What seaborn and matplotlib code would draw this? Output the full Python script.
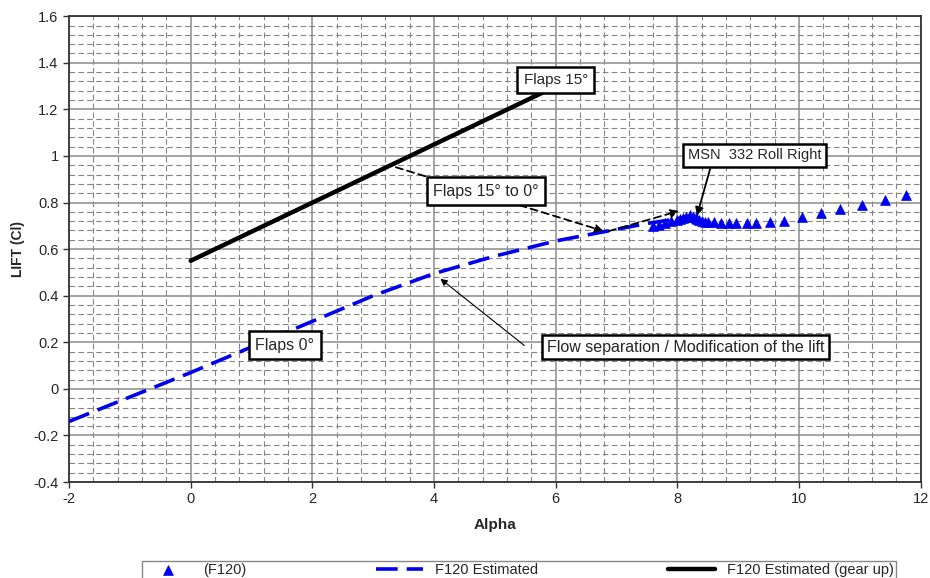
import numpy as np
import pandas as pd
import matplotlib
matplotlib.use("Agg")
import matplotlib.pyplot as plt
from matplotlib.ticker import MultipleLocator, FuncFormatter
import seaborn as sns

# --- データ ---
# F120 Estimated (gear up): フラップ15°
alpha_gear_up = [0.0, 5.85]
cl_gear_up = [0.55, 1.28]

# F120 Estimated: フラップ0°
alpha_est = [-2, -1, 0, 1, 2, 3, 4, 5, 6, 7, 7.5, 8, 8.3]
cl_est = [-0.14, -0.035, 0.07, 0.18, 0.29, 0.40, 0.495, 0.57, 0.635, 0.685, 0.71, 0.73, 0.745]

# (F120) 飛行データ
alpha_f120 = [7.6, 7.7, 7.8, 7.9, 8.0, 8.05, 8.1, 8.15, 8.2, 8.25, 8.3, 8.32, 8.35, 8.4,
              8.45, 8.5, 8.61, 8.72, 8.85, 8.97, 9.14, 9.30, 9.52, 9.75, 10.05, 10.36,
              10.68, 11.04, 11.41, 11.76]
cl_f120 = [0.70, 0.705, 0.71, 0.72, 0.725, 0.73, 0.735, 0.74, 0.745, 0.74, 0.735, 0.73,
           0.725, 0.72, 0.718, 0.716, 0.715, 0.714, 0.713, 0.713, 0.713, 0.713, 0.716,
           0.721, 0.736, 0.755, 0.772, 0.790, 0.809, 0.832]

sns.set_style("white")
plt.rcParams['font.family'] = ['Liberation Sans', 'DejaVu Sans']

fig = plt.figure(figsize=(9.3, 5.78), dpi=100)
ax = fig.add_axes([0.0742, 0.166, 0.9158, 0.806])

df_f120 = pd.DataFrame({"alpha": alpha_f120, "cl": cl_f120})
df_est = pd.DataFrame({"alpha": alpha_est, "cl": cl_est})
df_up = pd.DataFrame({"alpha": alpha_gear_up, "cl": cl_gear_up})

sns.lineplot(data=df_est, x="alpha", y="cl", ax=ax, color="#0000ee", lw=2.6,
             sort=False, label="F120 Estimated", zorder=3)
ax.lines[-1].set_dashes((6, 2.5))
sns.lineplot(data=df_up, x="alpha", y="cl", ax=ax, color="black", lw=3.2,
             sort=False, label="F120 Estimated (gear up)", zorder=3)
sns.scatterplot(data=df_f120, x="alpha", y="cl", ax=ax, marker="^", s=50,
                color="#0000ee", edgecolor="#0000ee", linewidth=0.5,
                label="(F120)", zorder=4)

# 軸と格子
ax.set_xlim(-2, 12)
ax.set_ylim(-0.4, 1.6)
ax.xaxis.set_major_locator(MultipleLocator(2))
ax.yaxis.set_major_locator(MultipleLocator(0.2))
ax.xaxis.set_minor_locator(MultipleLocator(0.4))
ax.yaxis.set_minor_locator(MultipleLocator(0.04))
fmt = FuncFormatter(lambda v, p: "{:g}".format(round(v, 2)))
ax.yaxis.set_major_formatter(fmt)
ax.xaxis.set_major_formatter(fmt)
ax.grid(which="minor", color="#858585", lw=0.8, ls=(0, (5, 3)), zorder=0)
ax.grid(which="major", color="#8c8c8c", lw=1.1, ls="-", zorder=0)
ax.set_axisbelow(True)
for s in ax.spines.values():
    s.set_color("#333333")
    s.set_linewidth(1.3)
ax.tick_params(which="major", direction="out", length=4, width=1, color="#333333",
               labelsize=10.5, bottom=True, left=True)
ax.tick_params(which="minor", length=0)

ax.set_xlabel("Alpha", fontsize=11, fontweight="bold", labelpad=8)
ax.set_ylabel("LIFT (Cl)", fontsize=10, fontweight="bold", labelpad=6)

# 注記ボックス
box = dict(boxstyle="square,pad=0.4", fc="white", ec="black", lw=1.8)
ax.annotate("Flaps 15°", xy=(6.0, 1.325), ha="center", va="center", fontsize=11,
            bbox=box, zorder=6)
ax.annotate("Flaps 15° to 0°", xy=(4.85, 0.849), ha="center", va="center", fontsize=11.5,
            bbox=box, zorder=6)
ax.annotate("Flaps 0°", xy=(1.55, 0.188), ha="center", va="center", fontsize=11.5,
            bbox=box, zorder=6)
ax.annotate("MSN  332 Roll Right", xy=(9.27, 1.003), ha="center", va="center",
            fontsize=10.5, bbox=dict(boxstyle="square,pad=0.3", fc="white", ec="black", lw=1.8),
            zorder=6)
ax.annotate("Flow separation / Modification of the lift", xy=(8.14, 0.179),
            ha="center", va="center", fontsize=11.5,
            bbox=dict(boxstyle="square,pad=0.3", fc="white", ec="black", lw=1.8),
            zorder=6)

# 矢印
dash_arrow = dict(arrowstyle="-|>", color="black", lw=1.3, ls=(0, (4, 2.5)),
                  mutation_scale=12)
ax.annotate("", xy=(6.83, 0.674), xytext=(3.33, 0.955), arrowprops=dash_arrow, zorder=5)
ax.annotate("", xy=(8.07, 0.767), xytext=(6.83, 0.674), arrowprops=dash_arrow, zorder=5)
ax.annotate("", xy=(8.31, 0.732), xytext=(8.55, 0.955),
            arrowprops=dict(arrowstyle="-|>", color="black", lw=1.3,
                            mutation_scale=12), zorder=6)
ax.annotate("", xy=(4.07, 0.48), xytext=(5.52, 0.179),
            arrowprops=dict(arrowstyle="-|>", color="black", lw=0.8,
                            mutation_scale=10), zorder=5)

# 凡例
handles, labels = ax.get_legend_handles_labels()
order = [labels.index("(F120)"), labels.index("F120 Estimated"),
         labels.index("F120 Estimated (gear up)")]
leg = ax.legend([handles[i] for i in order], [labels[i] for i in order],
                loc="upper left", bbox_to_anchor=(0.145, 0.042, 0.826, 0.0),
                bbox_transform=fig.transFigure, mode="expand", ncol=3,
                fancybox=False, frameon=True, edgecolor="#888888", framealpha=1,
                handlelength=3.2, borderpad=0.15, fontsize=10.5)
leg.get_frame().set_linewidth(1.0)

plt.savefig("out.png", dpi=100)
plt.close()
